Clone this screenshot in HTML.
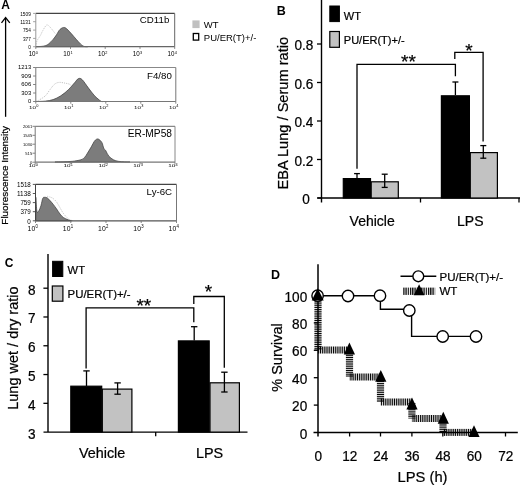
<!DOCTYPE html>
<html><head><meta charset="utf-8">
<style>
html,body{margin:0;padding:0;background:#fff;width:520px;height:485px;overflow:hidden}
svg{display:block;filter:grayscale(1)}
text{font-family:"Liberation Sans",sans-serif;fill:#000}
text:not([fill]){stroke:#000;stroke-width:0.22px}
text[font-weight]{stroke:none}
</style></head>
<body>
<svg width="520" height="485" viewBox="0 0 520 485">
<defs>
<pattern id="hv" width="2" height="1.85" patternUnits="userSpaceOnUse"><rect x="0" y="0" width="2" height="1.05" fill="#000"/></pattern>
<pattern id="hh" width="1.85" height="2" patternUnits="userSpaceOnUse"><rect x="0" y="0" width="1.05" height="2" fill="#000"/></pattern>
<pattern id="hh2" width="2.25" height="2" patternUnits="userSpaceOnUse" x="403.2"><rect x="0" y="0" width="1.25" height="2" fill="#000"/></pattern>
</defs>
<text x="276.80" y="14.70" font-size="12.5" font-weight="bold">B</text>
<line x1="321.50" y1="0.00" x2="321.50" y2="202.50" stroke="#000" stroke-width="1.4"/>
<line x1="317.50" y1="198.00" x2="520.00" y2="198.00" stroke="#000" stroke-width="1.4"/>
<line x1="317.00" y1="198.00" x2="321.50" y2="198.00" stroke="#000" stroke-width="1.3"/>
<line x1="317.00" y1="159.50" x2="321.50" y2="159.50" stroke="#000" stroke-width="1.3"/>
<line x1="317.00" y1="121.00" x2="321.50" y2="121.00" stroke="#000" stroke-width="1.3"/>
<line x1="317.00" y1="82.50" x2="321.50" y2="82.50" stroke="#000" stroke-width="1.3"/>
<line x1="317.00" y1="44.00" x2="321.50" y2="44.00" stroke="#000" stroke-width="1.3"/>
<line x1="420.50" y1="198.00" x2="420.50" y2="202.50" stroke="#000" stroke-width="1.3"/>
<line x1="519.00" y1="198.00" x2="519.00" y2="202.50" stroke="#000" stroke-width="1.3"/>
<text transform="translate(309.80,204.00) scale(1,1.120)" font-size="13.6" text-anchor="end">0</text>
<text transform="translate(313.30,165.50) scale(1,1.120)" font-size="13.6" text-anchor="end">0.2</text>
<text transform="translate(313.30,127.00) scale(1,1.120)" font-size="13.6" text-anchor="end">0.4</text>
<text transform="translate(313.30,88.50) scale(1,1.120)" font-size="13.6" text-anchor="end">0.6</text>
<text transform="translate(313.30,50.00) scale(1,1.120)" font-size="13.6" text-anchor="end">0.8</text>
<text transform="translate(288.0,113.2) rotate(-90)" text-anchor="middle" font-size="14.6">EBA Lung / Serum ratio</text>
<rect x="371.20" y="181.80" width="27.10" height="16.20" fill="#c2c2c2" stroke="#000" stroke-width="1.2"/>
<rect x="343.30" y="178.60" width="27.20" height="19.40" fill="#000" stroke="#000" stroke-width="1.2"/>
<rect x="470.30" y="152.60" width="27.10" height="45.40" fill="#c2c2c2" stroke="#000" stroke-width="1.2"/>
<rect x="441.40" y="95.80" width="28.00" height="102.20" fill="#000" stroke="#000" stroke-width="1.2"/>
<line x1="357.00" y1="173.60" x2="357.00" y2="178.50" stroke="#000" stroke-width="1.3"/>
<line x1="354.10" y1="173.60" x2="359.90" y2="173.60" stroke="#000" stroke-width="1.3"/>
<line x1="384.70" y1="174.20" x2="384.70" y2="187.40" stroke="#000" stroke-width="1.3"/>
<line x1="381.70" y1="174.20" x2="387.70" y2="174.20" stroke="#000" stroke-width="1.3"/>
<line x1="381.70" y1="187.40" x2="387.70" y2="187.40" stroke="#000" stroke-width="1.3"/>
<line x1="455.40" y1="82.00" x2="455.40" y2="95.00" stroke="#000" stroke-width="1.3"/>
<line x1="452.40" y1="82.00" x2="458.40" y2="82.00" stroke="#000" stroke-width="1.3"/>
<line x1="483.30" y1="145.60" x2="483.30" y2="158.20" stroke="#000" stroke-width="1.3"/>
<line x1="480.30" y1="145.60" x2="486.30" y2="145.60" stroke="#000" stroke-width="1.3"/>
<line x1="480.30" y1="158.20" x2="486.30" y2="158.20" stroke="#000" stroke-width="1.3"/>
<polyline points="357.00,168.80 357.00,64.40 455.40,64.40 455.40,76.20" fill="none" stroke="#000" stroke-width="1.3"/>
<polyline points="454.80,58.90 454.80,52.40 483.10,52.40 483.10,141.60" fill="none" stroke="#000" stroke-width="1.3"/>
<text x="401.00" y="67.80" font-size="19">**</text>
<text x="469.00" y="56.60" font-size="19" text-anchor="middle">*</text>
<rect x="329.80" y="6.00" width="9.60" height="15.60" fill="#000" stroke="#000" stroke-width="1"/>
<rect x="329.80" y="31.50" width="9.60" height="15.80" fill="#c2c2c2" stroke="#000" stroke-width="1.2"/>
<text x="343.80" y="19.60" font-size="11">WT</text>
<text x="343.80" y="43.60" font-size="11">PU/ER(T)+/-</text>
<text x="372.20" y="225.70" font-size="14" text-anchor="middle">Vehicle</text>
<text x="470.30" y="225.70" font-size="14" text-anchor="middle">LPS</text>
<text x="4.80" y="266.80" font-size="12" font-weight="bold">C</text>
<line x1="48.00" y1="254.00" x2="48.00" y2="432.10" stroke="#000" stroke-width="1.4"/>
<line x1="43.50" y1="432.10" x2="247.50" y2="432.10" stroke="#000" stroke-width="1.4"/>
<text transform="translate(35.60,438.50) scale(1,1.120)" font-size="13.6" text-anchor="end">3</text>
<line x1="43.40" y1="403.32" x2="48.00" y2="403.32" stroke="#000" stroke-width="1.3"/>
<text transform="translate(35.60,409.72) scale(1,1.120)" font-size="13.6" text-anchor="end">4</text>
<line x1="43.40" y1="374.54" x2="48.00" y2="374.54" stroke="#000" stroke-width="1.3"/>
<text transform="translate(35.60,380.94) scale(1,1.120)" font-size="13.6" text-anchor="end">5</text>
<line x1="43.40" y1="345.76" x2="48.00" y2="345.76" stroke="#000" stroke-width="1.3"/>
<text transform="translate(35.60,352.16) scale(1,1.120)" font-size="13.6" text-anchor="end">6</text>
<line x1="43.40" y1="316.98" x2="48.00" y2="316.98" stroke="#000" stroke-width="1.3"/>
<text transform="translate(35.60,323.38) scale(1,1.120)" font-size="13.6" text-anchor="end">7</text>
<line x1="43.40" y1="288.20" x2="48.00" y2="288.20" stroke="#000" stroke-width="1.3"/>
<text transform="translate(35.60,294.60) scale(1,1.120)" font-size="13.6" text-anchor="end">8</text>
<line x1="155.70" y1="432.10" x2="155.70" y2="436.20" stroke="#000" stroke-width="1.3"/>
<text transform="translate(17.8,348.1) rotate(-90)" text-anchor="middle" font-size="14.5">Lung wet / dry ratio</text>
<rect x="102.30" y="389.10" width="29.60" height="43.00" fill="#c2c2c2" stroke="#000" stroke-width="1.2"/>
<rect x="70.80" y="386.20" width="30.90" height="45.90" fill="#000" stroke="#000" stroke-width="1.2"/>
<rect x="210.00" y="382.80" width="29.40" height="49.30" fill="#c2c2c2" stroke="#000" stroke-width="1.2"/>
<rect x="178.40" y="340.90" width="30.80" height="91.20" fill="#000" stroke="#000" stroke-width="1.2"/>
<line x1="86.50" y1="370.90" x2="86.50" y2="386.00" stroke="#000" stroke-width="1.3"/>
<line x1="83.30" y1="370.90" x2="89.70" y2="370.90" stroke="#000" stroke-width="1.3"/>
<line x1="117.60" y1="382.90" x2="117.60" y2="394.20" stroke="#000" stroke-width="1.3"/>
<line x1="114.40" y1="382.90" x2="120.80" y2="382.90" stroke="#000" stroke-width="1.3"/>
<line x1="114.40" y1="394.20" x2="120.80" y2="394.20" stroke="#000" stroke-width="1.3"/>
<line x1="194.20" y1="326.70" x2="194.20" y2="340.50" stroke="#000" stroke-width="1.3"/>
<line x1="191.00" y1="326.70" x2="197.40" y2="326.70" stroke="#000" stroke-width="1.3"/>
<line x1="224.40" y1="372.20" x2="224.40" y2="392.00" stroke="#000" stroke-width="1.3"/>
<line x1="221.20" y1="372.20" x2="227.60" y2="372.20" stroke="#000" stroke-width="1.3"/>
<line x1="221.20" y1="392.00" x2="227.60" y2="392.00" stroke="#000" stroke-width="1.3"/>
<polyline points="86.10,368.50 86.10,307.90 193.80,307.90 193.80,322.20" fill="none" stroke="#000" stroke-width="1.3"/>
<polyline points="193.80,304.00 193.80,296.50 224.30,296.50 224.30,367.80" fill="none" stroke="#000" stroke-width="1.3"/>
<text x="136.40" y="312.10" font-size="19">**</text>
<text x="208.50" y="298.20" font-size="19" text-anchor="middle">*</text>
<rect x="52.60" y="261.30" width="10.20" height="15.20" fill="#000" stroke="#000" stroke-width="1"/>
<rect x="52.30" y="286.00" width="10.60" height="15.20" fill="#c2c2c2" stroke="#000" stroke-width="1.2"/>
<text x="67.60" y="274.30" font-size="11.2">WT</text>
<text x="67.60" y="297.60" font-size="11.4">PU/ER(T)+/-</text>
<text x="102.10" y="457.70" font-size="14.4" text-anchor="middle">Vehicle</text>
<text x="209.60" y="457.70" font-size="14.4" text-anchor="middle">LPS</text>
<text x="270.90" y="278.80" font-size="12.5" font-weight="bold">D</text>
<line x1="318.00" y1="264.30" x2="318.00" y2="436.50" stroke="#000" stroke-width="1.5"/>
<line x1="313.50" y1="432.50" x2="517.80" y2="432.50" stroke="#000" stroke-width="1.5"/>
<text transform="translate(307.20,438.50) scale(1,1.120)" font-size="13.6" text-anchor="end">0</text>
<line x1="313.80" y1="405.10" x2="318.00" y2="405.10" stroke="#000" stroke-width="1.3"/>
<text transform="translate(307.20,411.10) scale(1,1.120)" font-size="13.6" text-anchor="end">20</text>
<line x1="313.80" y1="377.70" x2="318.00" y2="377.70" stroke="#000" stroke-width="1.3"/>
<text transform="translate(307.20,383.70) scale(1,1.120)" font-size="13.6" text-anchor="end">40</text>
<line x1="313.80" y1="350.30" x2="318.00" y2="350.30" stroke="#000" stroke-width="1.3"/>
<text transform="translate(307.20,356.30) scale(1,1.120)" font-size="13.6" text-anchor="end">60</text>
<line x1="313.80" y1="322.90" x2="318.00" y2="322.90" stroke="#000" stroke-width="1.3"/>
<text transform="translate(307.20,328.90) scale(1,1.120)" font-size="13.6" text-anchor="end">80</text>
<line x1="313.80" y1="295.50" x2="318.00" y2="295.50" stroke="#000" stroke-width="1.3"/>
<text transform="translate(307.20,301.50) scale(1,1.120)" font-size="13.6" text-anchor="end">100</text>
<text transform="translate(318.20,460.90) scale(1,1.120)" font-size="13.6" text-anchor="middle">0</text>
<line x1="349.60" y1="432.50" x2="349.60" y2="436.50" stroke="#000" stroke-width="1.3"/>
<text transform="translate(349.80,460.90) scale(1,1.120)" font-size="13.6" text-anchor="middle">12</text>
<line x1="380.50" y1="432.50" x2="380.50" y2="436.50" stroke="#000" stroke-width="1.3"/>
<text transform="translate(380.70,460.90) scale(1,1.120)" font-size="13.6" text-anchor="middle">24</text>
<line x1="411.90" y1="432.50" x2="411.90" y2="436.50" stroke="#000" stroke-width="1.3"/>
<text transform="translate(412.10,460.90) scale(1,1.120)" font-size="13.6" text-anchor="middle">36</text>
<line x1="442.80" y1="432.50" x2="442.80" y2="436.50" stroke="#000" stroke-width="1.3"/>
<text transform="translate(443.00,460.90) scale(1,1.120)" font-size="13.6" text-anchor="middle">48</text>
<line x1="474.00" y1="432.50" x2="474.00" y2="436.50" stroke="#000" stroke-width="1.3"/>
<text transform="translate(474.20,460.90) scale(1,1.120)" font-size="13.6" text-anchor="middle">60</text>
<line x1="505.50" y1="432.50" x2="505.50" y2="436.50" stroke="#000" stroke-width="1.3"/>
<text transform="translate(505.70,460.90) scale(1,1.120)" font-size="13.6" text-anchor="middle">72</text>
<text x="422.5" y="481.6" text-anchor="middle" font-size="14.8" textLength="50" lengthAdjust="spacingAndGlyphs">LPS (h)</text>
<text transform="translate(282.2,357.5) rotate(-90)" text-anchor="middle" font-size="14.5">% Survival</text>
<rect x="314.40" y="296.50" width="7.20" height="53.50" fill="url(#hv)"/>
<rect x="318.00" y="346.50" width="31.50" height="7.00" fill="url(#hh)"/>
<rect x="345.90" y="351.00" width="7.20" height="26.00" fill="url(#hv)"/>
<rect x="349.50" y="373.50" width="31.00" height="7.00" fill="url(#hh)"/>
<rect x="376.90" y="378.00" width="7.20" height="24.00" fill="url(#hv)"/>
<rect x="380.50" y="398.50" width="31.40" height="7.00" fill="url(#hh)"/>
<rect x="408.30" y="403.00" width="7.20" height="15.50" fill="url(#hv)"/>
<rect x="411.90" y="415.00" width="31.10" height="7.00" fill="url(#hh)"/>
<rect x="439.40" y="419.50" width="7.20" height="12.90" fill="url(#hv)"/>
<rect x="443.00" y="428.90" width="31.00" height="7.00" fill="url(#hh)"/>
<path d="M349.40,342.40 L355.00,354.40 L343.80,354.40 Z" fill="#000"/>
<path d="M380.80,370.00 L386.40,381.80 L375.20,381.80 Z" fill="#000"/>
<path d="M412.00,397.50 L417.60,409.40 L406.40,409.40 Z" fill="#000"/>
<path d="M443.30,411.70 L448.90,423.80 L437.70,423.80 Z" fill="#000"/>
<path d="M474.00,425.20 L479.60,436.90 L468.40,436.90 Z" fill="#000"/>
<polyline points="318.00,295.70 380.40,295.70 380.40,309.30 411.60,309.30 411.60,336.40 476.00,336.40" fill="none" stroke="#000" stroke-width="1.4"/>
<circle cx="317.60" cy="295.70" r="5.7" fill="#fff" stroke="#000" stroke-width="1.4"/>
<circle cx="348.00" cy="296.00" r="5.7" fill="#fff" stroke="#000" stroke-width="1.4"/>
<circle cx="380.00" cy="295.70" r="5.7" fill="#fff" stroke="#000" stroke-width="1.4"/>
<circle cx="409.30" cy="310.50" r="5.7" fill="#fff" stroke="#000" stroke-width="1.4"/>
<circle cx="442.70" cy="336.50" r="5.7" fill="#fff" stroke="#000" stroke-width="1.4"/>
<circle cx="476.00" cy="336.50" r="5.7" fill="#fff" stroke="#000" stroke-width="1.4"/>
<path d="M317.70,288.30 L323.70,300.60 L311.70,300.60 Z" fill="#000"/>
<line x1="400.50" y1="276.30" x2="436.30" y2="276.30" stroke="#000" stroke-width="1.4"/>
<circle cx="418.3" cy="276.3" r="5.4" fill="#fff" stroke="#000" stroke-width="1.4"/>
<text x="439.50" y="280.60" font-size="11.5">PU/ER(T)+/-</text>
<rect x="403.2" y="287.6" width="32" height="7.3" fill="url(#hh2)"/>
<path d="M419.10,284.20 L424.50,295.30 L413.70,295.30 Z" fill="#000"/>
<text x="439.50" y="295.20" font-size="11.5">WT</text>
<text x="1.20" y="8.70" font-size="12" font-weight="bold">A</text>
<line x1="5.60" y1="18.00" x2="5.60" y2="116.80" stroke="#000" stroke-width="1.3"/>
<polyline points="1.5,22.8 5.6,17.6 9.8,22.8" fill="none" stroke="#000" stroke-width="1.3"/>
<text transform="translate(8.0,175.4) rotate(-90)" text-anchor="middle" font-size="9.5" textLength="98.5" lengthAdjust="spacingAndGlyphs">Fluorescence Intensity</text>
<path d="M35.80,46.70 C37.13,46.60 41.68,46.55 43.80,46.10 C45.92,45.65 46.95,45.12 48.50,44.00 C50.05,42.88 51.77,40.93 53.10,39.40 C54.43,37.87 55.35,36.47 56.50,34.80 C57.65,33.13 58.65,30.62 60.00,29.40 C61.35,28.18 63.07,27.18 64.60,27.50 C66.13,27.82 67.67,29.80 69.20,31.30 C70.73,32.80 72.27,34.77 73.80,36.50 C75.33,38.23 76.87,40.12 78.40,41.70 C79.93,43.28 81.45,45.17 83.00,46.00 C84.55,46.83 86.92,46.58 87.70,46.70 L35.8,46.7 Z" fill="#7c7c7c" stroke="#3a3a3a" stroke-width="0.7"/>
<path d="M35.80,46.50 C35.98,45.60 36.13,42.95 36.90,41.10 C37.67,39.25 39.43,37.12 40.40,35.40 C41.37,33.68 41.65,32.53 42.70,30.80 C43.75,29.07 45.45,25.58 46.70,25.00 C47.95,24.42 49.13,26.33 50.20,27.30 C51.27,28.27 52.23,29.72 53.10,30.80 C53.97,31.88 55.02,33.30 55.40,33.80" fill="none" stroke="#aaa" stroke-width="0.8" stroke-dasharray="1,1.2"/>
<line x1="35.8" y1="13.4" x2="174.7" y2="13.4" stroke="#444" stroke-width="1.2"/>
<line x1="174.7" y1="13.4" x2="174.7" y2="46.7" stroke="#666" stroke-width="1"/>
<line x1="35.8" y1="46.7" x2="174.7" y2="46.7" stroke="#666" stroke-width="1.2"/>
<line x1="35.8" y1="13.4" x2="35.8" y2="46.7" stroke="#999" stroke-width="1"/>
<line x1="33.1" y1="13.4" x2="35.8" y2="13.4" stroke="#999" stroke-width="0.9"/>
<text x="30.8" y="15.6" font-size="6.0" fill="#555" text-anchor="end" textLength="10.6" lengthAdjust="spacingAndGlyphs">1509</text>
<line x1="33.1" y1="21.7" x2="35.8" y2="21.7" stroke="#999" stroke-width="0.9"/>
<text x="30.8" y="23.9" font-size="6.0" fill="#555" text-anchor="end" textLength="10.6" lengthAdjust="spacingAndGlyphs">1131</text>
<line x1="33.1" y1="30.1" x2="35.8" y2="30.1" stroke="#999" stroke-width="0.9"/>
<text x="30.8" y="32.3" font-size="6.0" fill="#555" text-anchor="end" textLength="7.9" lengthAdjust="spacingAndGlyphs">754</text>
<line x1="33.1" y1="38.4" x2="35.8" y2="38.4" stroke="#999" stroke-width="0.9"/>
<text x="30.8" y="40.6" font-size="6.0" fill="#555" text-anchor="end" textLength="7.9" lengthAdjust="spacingAndGlyphs">377</text>
<line x1="33.1" y1="46.7" x2="35.8" y2="46.7" stroke="#999" stroke-width="0.9"/>
<text x="30.8" y="48.9" font-size="6.0" fill="#555" text-anchor="end" textLength="2.6" lengthAdjust="spacingAndGlyphs">0</text>
<line x1="35.8" y1="46.7" x2="35.8" y2="48.9" stroke="#777" stroke-width="0.9"/>
<g transform="translate(35.60,56.40) scale(0.95,1)" fill="#555"><text x="0" y="0" font-size="6.6" text-anchor="end" fill="#555">10</text><text x="0.2" y="-2.77" font-size="4.1" fill="#555">0</text></g>
<line x1="70.5" y1="46.7" x2="70.5" y2="48.9" stroke="#777" stroke-width="0.9"/>
<g transform="translate(70.32,56.40) scale(0.95,1)" fill="#555"><text x="0" y="0" font-size="6.6" text-anchor="end" fill="#555">10</text><text x="0.2" y="-2.77" font-size="4.1" fill="#555">1</text></g>
<line x1="105.2" y1="46.7" x2="105.2" y2="48.9" stroke="#777" stroke-width="0.9"/>
<g transform="translate(105.05,56.40) scale(0.95,1)" fill="#555"><text x="0" y="0" font-size="6.6" text-anchor="end" fill="#555">10</text><text x="0.2" y="-2.77" font-size="4.1" fill="#555">2</text></g>
<line x1="140.0" y1="46.7" x2="140.0" y2="48.9" stroke="#777" stroke-width="0.9"/>
<g transform="translate(139.77,56.40) scale(0.95,1)" fill="#555"><text x="0" y="0" font-size="6.6" text-anchor="end" fill="#555">10</text><text x="0.2" y="-2.77" font-size="4.1" fill="#555">3</text></g>
<line x1="174.7" y1="46.7" x2="174.7" y2="48.9" stroke="#777" stroke-width="0.9"/>
<g transform="translate(174.50,56.40) scale(0.95,1)" fill="#555"><text x="0" y="0" font-size="6.6" text-anchor="end" fill="#555">10</text><text x="0.2" y="-2.77" font-size="4.1" fill="#555">4</text></g>
<text x="169.3" y="22.8" font-size="9.7" fill="#111" text-anchor="end">CD11b</text>
<path d="M35.80,101.50 C37.40,101.43 42.52,101.42 45.40,101.10 C48.28,100.78 50.53,100.48 53.10,99.60 C55.67,98.72 58.23,97.47 60.80,95.80 C63.37,94.13 66.20,91.78 68.50,89.60 C70.80,87.42 72.93,84.53 74.60,82.70 C76.27,80.87 77.22,79.08 78.50,78.60 C79.78,78.12 80.63,78.22 82.30,79.80 C83.97,81.38 86.45,85.43 88.50,88.10 C90.55,90.77 92.55,93.63 94.60,95.80 C96.65,97.97 99.40,100.15 100.80,101.10 C102.20,102.05 102.63,101.43 103.00,101.50 L35.8,101.5 Z" fill="#7c7c7c" stroke="#3a3a3a" stroke-width="0.7"/>
<path d="M36.50,101.30 C36.83,101.15 37.02,101.32 38.50,100.40 C39.98,99.48 43.48,97.60 45.40,95.80 C47.32,94.00 48.47,91.53 50.00,89.60 C51.53,87.67 53.07,85.40 54.60,84.20 C56.13,83.00 57.40,82.57 59.20,82.40 C61.00,82.23 63.60,82.87 65.40,83.20 C67.20,83.53 68.98,83.85 70.00,84.40 C71.02,84.95 71.25,86.15 71.50,86.50" fill="none" stroke="#aaa" stroke-width="0.8" stroke-dasharray="1,1.2"/>
<line x1="35.8" y1="67.5" x2="175.8" y2="67.5" stroke="#888" stroke-width="1.2"/>
<line x1="175.8" y1="67.5" x2="175.8" y2="101.5" stroke="#777" stroke-width="1"/>
<line x1="35.8" y1="101.5" x2="175.8" y2="101.5" stroke="#777" stroke-width="1.2"/>
<line x1="35.8" y1="67.5" x2="35.8" y2="101.5" stroke="#777" stroke-width="1"/>
<line x1="33.1" y1="67.5" x2="35.8" y2="67.5" stroke="#777" stroke-width="0.9"/>
<text x="31.2" y="69.4" font-size="5.2" fill="#999" text-anchor="end" textLength="13.2" lengthAdjust="spacingAndGlyphs">1213</text>
<line x1="33.1" y1="76.0" x2="35.8" y2="76.0" stroke="#777" stroke-width="0.9"/>
<text x="31.2" y="77.9" font-size="5.2" fill="#999" text-anchor="end" textLength="9.9" lengthAdjust="spacingAndGlyphs">909</text>
<line x1="33.1" y1="84.5" x2="35.8" y2="84.5" stroke="#777" stroke-width="0.9"/>
<text x="31.2" y="86.4" font-size="5.2" fill="#999" text-anchor="end" textLength="9.9" lengthAdjust="spacingAndGlyphs">606</text>
<line x1="33.1" y1="93.0" x2="35.8" y2="93.0" stroke="#777" stroke-width="0.9"/>
<text x="31.2" y="94.9" font-size="5.2" fill="#999" text-anchor="end" textLength="9.9" lengthAdjust="spacingAndGlyphs">303</text>
<line x1="33.1" y1="101.5" x2="35.8" y2="101.5" stroke="#777" stroke-width="0.9"/>
<text x="31.2" y="103.4" font-size="5.2" fill="#999" text-anchor="end" textLength="3.3" lengthAdjust="spacingAndGlyphs">0</text>
<line x1="35.8" y1="101.5" x2="35.8" y2="103.7" stroke="#777" stroke-width="0.9"/>
<g transform="translate(36.00,108.50) scale(1.45,1)" fill="#888"><text x="0" y="0" font-size="4.3" text-anchor="end" fill="#888">10</text><text x="0.2" y="-1.81" font-size="2.7" fill="#888">0</text></g>
<line x1="70.8" y1="101.5" x2="70.8" y2="103.7" stroke="#777" stroke-width="0.9"/>
<g transform="translate(71.00,108.50) scale(1.45,1)" fill="#888"><text x="0" y="0" font-size="4.3" text-anchor="end" fill="#888">10</text><text x="0.2" y="-1.81" font-size="2.7" fill="#888">1</text></g>
<line x1="105.8" y1="101.5" x2="105.8" y2="103.7" stroke="#777" stroke-width="0.9"/>
<g transform="translate(106.00,108.50) scale(1.45,1)" fill="#888"><text x="0" y="0" font-size="4.3" text-anchor="end" fill="#888">10</text><text x="0.2" y="-1.81" font-size="2.7" fill="#888">2</text></g>
<line x1="140.8" y1="101.5" x2="140.8" y2="103.7" stroke="#777" stroke-width="0.9"/>
<g transform="translate(141.00,108.50) scale(1.45,1)" fill="#888"><text x="0" y="0" font-size="4.3" text-anchor="end" fill="#888">10</text><text x="0.2" y="-1.81" font-size="2.7" fill="#888">3</text></g>
<line x1="175.8" y1="101.5" x2="175.8" y2="103.7" stroke="#777" stroke-width="0.9"/>
<g transform="translate(176.00,108.50) scale(1.45,1)" fill="#888"><text x="0" y="0" font-size="4.3" text-anchor="end" fill="#888">10</text><text x="0.2" y="-1.81" font-size="2.7" fill="#888">4</text></g>
<text x="171.8" y="78.6" font-size="9.7" fill="#111" text-anchor="end">F4/80</text>
<path d="M55.00,161.90 C56.35,161.88 60.22,161.90 63.10,161.80 C65.98,161.70 69.35,161.63 72.30,161.30 C75.25,160.97 78.75,160.45 80.80,159.80 C82.85,159.15 83.48,158.52 84.60,157.40 C85.72,156.28 86.38,154.87 87.50,153.10 C88.62,151.33 90.18,148.73 91.30,146.80 C92.42,144.87 93.32,142.77 94.20,141.50 C95.08,140.23 95.83,139.57 96.60,139.20 C97.37,138.83 97.92,138.75 98.80,139.30 C99.68,139.85 101.07,141.00 101.90,142.50 C102.73,144.00 103.15,146.93 103.80,148.30 C104.45,149.67 104.98,149.42 105.80,150.70 C106.62,151.98 107.42,154.48 108.70,156.00 C109.98,157.52 111.90,158.92 113.50,159.80 C115.10,160.68 116.45,160.95 118.30,161.30 C120.15,161.65 122.65,161.78 124.60,161.90 C126.55,162.02 129.10,161.98 130.00,162.00 L55.0,162.2 Z" fill="#7c7c7c" stroke="#3a3a3a" stroke-width="0.7"/>
<line x1="35.2" y1="126.3" x2="175.0" y2="126.3" stroke="#888" stroke-width="1.2"/>
<line x1="175.0" y1="126.3" x2="175.0" y2="162.2" stroke="#888" stroke-width="1"/>
<line x1="35.2" y1="162.2" x2="175.0" y2="162.2" stroke="#777" stroke-width="1.2"/>
<line x1="35.2" y1="126.3" x2="35.2" y2="162.2" stroke="#777" stroke-width="1"/>
<line x1="32.5" y1="126.3" x2="35.2" y2="126.3" stroke="#777" stroke-width="0.9"/>
<text x="32.2" y="127.9" font-size="4.4" fill="#aaa" text-anchor="end" textLength="9.2" lengthAdjust="spacingAndGlyphs">2061</text>
<line x1="32.5" y1="135.3" x2="35.2" y2="135.3" stroke="#777" stroke-width="0.9"/>
<text x="32.2" y="136.9" font-size="4.4" fill="#aaa" text-anchor="end" textLength="9.2" lengthAdjust="spacingAndGlyphs">1545</text>
<line x1="32.5" y1="144.2" x2="35.2" y2="144.2" stroke="#777" stroke-width="0.9"/>
<text x="32.2" y="145.8" font-size="4.4" fill="#aaa" text-anchor="end" textLength="9.2" lengthAdjust="spacingAndGlyphs">1030</text>
<line x1="32.5" y1="153.2" x2="35.2" y2="153.2" stroke="#777" stroke-width="0.9"/>
<text x="32.2" y="154.8" font-size="4.4" fill="#aaa" text-anchor="end" textLength="6.9" lengthAdjust="spacingAndGlyphs">515</text>
<line x1="32.5" y1="162.2" x2="35.2" y2="162.2" stroke="#777" stroke-width="0.9"/>
<text x="32.2" y="163.8" font-size="4.4" fill="#aaa" text-anchor="end" textLength="2.3" lengthAdjust="spacingAndGlyphs">0</text>
<line x1="35.2" y1="162.2" x2="35.2" y2="164.4" stroke="#777" stroke-width="0.9"/>
<g transform="translate(35.50,167.40) scale(1.50,1)" fill="#999"><text x="0" y="0" font-size="4.2" text-anchor="end" fill="#999">10</text><text x="0.2" y="-1.76" font-size="2.6" fill="#999">0</text></g>
<line x1="70.2" y1="162.2" x2="70.2" y2="164.4" stroke="#777" stroke-width="0.9"/>
<g transform="translate(70.45,167.40) scale(1.50,1)" fill="#999"><text x="0" y="0" font-size="4.2" text-anchor="end" fill="#999">10</text><text x="0.2" y="-1.76" font-size="2.6" fill="#999">1</text></g>
<line x1="105.1" y1="162.2" x2="105.1" y2="164.4" stroke="#777" stroke-width="0.9"/>
<g transform="translate(105.40,167.40) scale(1.50,1)" fill="#999"><text x="0" y="0" font-size="4.2" text-anchor="end" fill="#999">10</text><text x="0.2" y="-1.76" font-size="2.6" fill="#999">2</text></g>
<line x1="140.1" y1="162.2" x2="140.1" y2="164.4" stroke="#777" stroke-width="0.9"/>
<g transform="translate(140.35,167.40) scale(1.50,1)" fill="#999"><text x="0" y="0" font-size="4.2" text-anchor="end" fill="#999">10</text><text x="0.2" y="-1.76" font-size="2.6" fill="#999">3</text></g>
<line x1="175.0" y1="162.2" x2="175.0" y2="164.4" stroke="#777" stroke-width="0.9"/>
<g transform="translate(175.30,167.40) scale(1.50,1)" fill="#999"><text x="0" y="0" font-size="4.2" text-anchor="end" fill="#999">10</text><text x="0.2" y="-1.76" font-size="2.6" fill="#999">4</text></g>
<text x="172.0" y="136.5" font-size="10.2" fill="#111" text-anchor="end">ER-MP58</text>
<path d="M35.8,220.8 L35.8,197.3 L35.80,197.30 C35.98,199.60 36.42,208.80 36.90,211.10 C37.38,213.40 38.02,212.05 38.70,211.10 C39.38,210.15 40.33,207.50 41.00,205.40 C41.67,203.30 42.13,199.85 42.70,198.50 C43.27,197.15 43.63,197.40 44.40,197.30 C45.17,197.20 46.33,197.32 47.30,197.90 C48.27,198.48 49.23,199.75 50.20,200.80 C51.17,201.85 52.05,202.87 53.10,204.20 C54.15,205.53 55.35,207.17 56.50,208.80 C57.65,210.43 58.85,212.55 60.00,214.00 C61.15,215.45 62.05,216.53 63.40,217.50 C64.75,218.47 66.75,219.25 68.10,219.80 C69.45,220.35 70.93,220.63 71.50,220.80 Z" fill="#7c7c7c" stroke="#3a3a3a" stroke-width="0.7"/>
<path d="M47.30,196.30 C47.83,196.45 49.53,196.83 50.50,197.20 C51.47,197.57 52.10,197.72 53.10,198.50 C54.10,199.28 55.35,200.37 56.50,201.90 C57.65,203.43 58.85,205.78 60.00,207.70 C61.15,209.62 62.05,211.58 63.40,213.40 C64.75,215.22 66.55,217.38 68.10,218.60 C69.65,219.82 71.93,220.35 72.70,220.70" fill="none" stroke="#aaa" stroke-width="0.8" stroke-dasharray="1,1.2"/>
<line x1="35.5" y1="184.4" x2="176.5" y2="184.4" stroke="#444" stroke-width="1.2"/>
<line x1="176.5" y1="184.4" x2="176.5" y2="220.8" stroke="#777" stroke-width="1"/>
<line x1="35.5" y1="220.8" x2="176.5" y2="220.8" stroke="#555" stroke-width="1.2"/>
<line x1="35.5" y1="184.4" x2="35.5" y2="220.8" stroke="#444" stroke-width="1"/>
<line x1="32.8" y1="184.4" x2="35.5" y2="184.4" stroke="#444" stroke-width="0.9"/>
<text x="30.8" y="187.1" font-size="7.4" fill="#444" text-anchor="end" textLength="13.8" lengthAdjust="spacingAndGlyphs">1518</text>
<line x1="32.8" y1="193.5" x2="35.5" y2="193.5" stroke="#444" stroke-width="0.9"/>
<text x="30.8" y="196.2" font-size="7.4" fill="#444" text-anchor="end" textLength="13.8" lengthAdjust="spacingAndGlyphs">1138</text>
<line x1="32.8" y1="202.6" x2="35.5" y2="202.6" stroke="#444" stroke-width="0.9"/>
<text x="30.8" y="205.3" font-size="7.4" fill="#444" text-anchor="end" textLength="10.4" lengthAdjust="spacingAndGlyphs">759</text>
<line x1="32.8" y1="211.7" x2="35.5" y2="211.7" stroke="#444" stroke-width="0.9"/>
<text x="30.8" y="214.4" font-size="7.4" fill="#444" text-anchor="end" textLength="10.4" lengthAdjust="spacingAndGlyphs">379</text>
<line x1="32.8" y1="220.8" x2="35.5" y2="220.8" stroke="#444" stroke-width="0.9"/>
<text x="30.8" y="223.5" font-size="7.4" fill="#444" text-anchor="end" textLength="3.5" lengthAdjust="spacingAndGlyphs">0</text>
<line x1="35.5" y1="220.8" x2="35.5" y2="223.0" stroke="#777" stroke-width="0.9"/>
<g transform="translate(35.20,231.10) scale(0.95,1)" fill="#444"><text x="0" y="0" font-size="7.2" text-anchor="end" fill="#444">10</text><text x="0.2" y="-3.02" font-size="4.5" fill="#444">0</text></g>
<line x1="70.8" y1="220.8" x2="70.8" y2="223.0" stroke="#777" stroke-width="0.9"/>
<g transform="translate(70.45,231.10) scale(0.95,1)" fill="#444"><text x="0" y="0" font-size="7.2" text-anchor="end" fill="#444">10</text><text x="0.2" y="-3.02" font-size="4.5" fill="#444">1</text></g>
<line x1="106.0" y1="220.8" x2="106.0" y2="223.0" stroke="#777" stroke-width="0.9"/>
<g transform="translate(105.70,231.10) scale(0.95,1)" fill="#444"><text x="0" y="0" font-size="7.2" text-anchor="end" fill="#444">10</text><text x="0.2" y="-3.02" font-size="4.5" fill="#444">2</text></g>
<line x1="141.2" y1="220.8" x2="141.2" y2="223.0" stroke="#777" stroke-width="0.9"/>
<g transform="translate(140.95,231.10) scale(0.95,1)" fill="#444"><text x="0" y="0" font-size="7.2" text-anchor="end" fill="#444">10</text><text x="0.2" y="-3.02" font-size="4.5" fill="#444">3</text></g>
<line x1="176.5" y1="220.8" x2="176.5" y2="223.0" stroke="#777" stroke-width="0.9"/>
<g transform="translate(176.20,231.10) scale(0.95,1)" fill="#444"><text x="0" y="0" font-size="7.2" text-anchor="end" fill="#444">10</text><text x="0.2" y="-3.02" font-size="4.5" fill="#444">4</text></g>
<text x="172.1" y="195.3" font-size="9.7" fill="#111" text-anchor="end">Ly-6C</text>
<rect x="192.4" y="20.4" width="7.2" height="7.7" fill="#c0c0c0"/>
<rect x="193.3" y="33.5" width="5.4" height="6.6" fill="#fff" stroke="#000" stroke-width="1.3"/>
<text x="203.80" y="28.30" font-size="9.5" fill="#222">WT</text>
<text x="203.80" y="40.80" font-size="9.5" fill="#222">PU/ER(T)+/-</text>
</svg>
</body></html>
